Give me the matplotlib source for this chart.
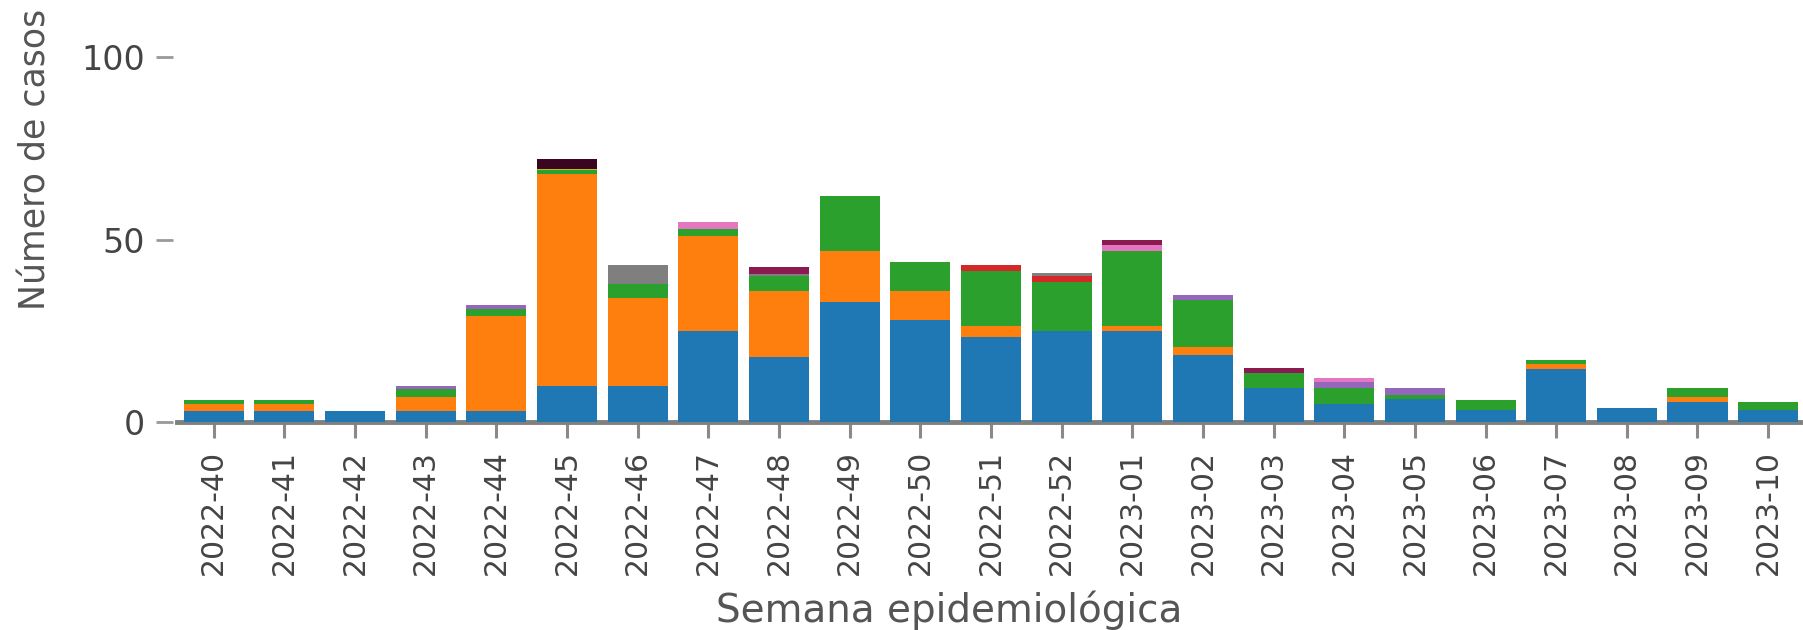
import matplotlib
matplotlib.use("Agg")
import matplotlib.pyplot as plt
import numpy as np

# semanas epidemiológicas
semanas = [
    "2022-40", "2022-41", "2022-42", "2022-43", "2022-44", "2022-45", "2022-46",
    "2022-47", "2022-48", "2022-49", "2022-50", "2022-51", "2022-52",
    "2023-01", "2023-02", "2023-03", "2023-04", "2023-05", "2023-06",
    "2023-07", "2023-08", "2023-09", "2023-10",
]

# casos por serie
serie_azul    = [3, 3, 3, 3, 3, 10, 10, 25, 18, 33, 28, 23.5, 25, 25, 18.5, 9.5, 5, 6.5, 3.5, 14.5, 4, 5.5, 3.5]
serie_laranja = [2, 2, 0, 4, 26, 58, 24, 26, 18, 14, 8, 3, 0, 1.5, 2, 0, 0, 0, 0, 1.5, 0, 1.5, 0]
serie_verde   = [1, 1, 0, 2, 2, 1, 4, 2, 4, 15, 8, 15, 13.5, 20.5, 13, 4, 4.5, 1, 2.5, 1, 0, 2.5, 2]
serie_vermelha = [0, 0, 0, 0, 0, 0, 0, 0, 0, 0, 0, 1.5, 1.5, 0, 0, 0, 0, 0, 0, 0, 0, 0, 0]
serie_cinza   = [0, 0, 0, 0, 0, 0, 5, 0, 0.5, 0, 0, 0, 1, 0, 0, 0, 0, 0, 0, 0, 0, 0, 0]
serie_roxa    = [0, 0, 0, 1, 1, 0, 0, 0, 0, 0, 0, 0, 0, 0, 1.5, 0, 1.5, 2, 0, 0, 0, 0, 0]
serie_rosa    = [0, 0, 0, 0, 0, 0, 0, 2, 0, 0, 0, 0, 0, 1.5, 0, 0, 1, 0, 0, 0, 0, 0, 0]
serie_amarela = [0, 0, 0, 0, 0, 0.5, 0, 0, 0, 0, 0, 0, 0, 0, 0, 0, 0, 0, 0, 0, 0, 0, 0]
serie_vinho   = [0, 0, 0, 0, 0, 0, 0, 0, 2, 0, 0, 0, 0, 1.5, 0, 1.5, 0, 0, 0, 0, 0, 0, 0]
serie_escura  = [0, 0, 0, 0, 0, 2.5, 0, 0, 0, 0, 0, 0, 0, 0, 0, 0, 0, 0, 0, 0, 0, 0, 0]

series = [serie_azul, serie_laranja, serie_verde, serie_vermelha, serie_cinza,
          serie_roxa, serie_rosa, serie_amarela, serie_vinho, serie_escura]
cores = ["#1f77b4", "#ff7f0e", "#2ca02c", "#d62728", "#7f7f7f",
         "#9467bd", "#e377c2", "#bcbd22", "#8b1a50", "#3a0520"]

fig = plt.figure(figsize=(18.03, 6.3), dpi=100)
ax = fig.add_axes([0.0982, 0.3297, 0.9001, 0.6373])

x = np.arange(len(semanas))
base = np.zeros(len(semanas))
for valores, cor in zip(series, cores):
    valores = np.array(valores, dtype=float)
    ax.bar(x, valores, bottom=base, width=0.85, color=cor, linewidth=0, zorder=3)
    base += valores

ax.set_xlim(-0.52, 22.45)
ax.set_ylim(0, 110)
ax.set_xticks(x)
ax.set_xticklabels(semanas, rotation=90)
ax.set_yticks([0, 50, 100])

for lado in ["top", "right"]:
    ax.spines[lado].set_visible(False)
ax.spines["left"].set_position(("outward", 3))
ax.spines["left"].set_color("none")
ax.spines["bottom"].set_color("#808080")
ax.spines["bottom"].set_linewidth(3.5)
ax.spines["bottom"].set_zorder(2)

ax.tick_params(axis="x", labelsize=21.5, labelcolor="#444444", color="#8a8a8a",
               length=11.5, width=2.2, pad=8.5)
ax.tick_params(axis="y", labelsize=24, labelcolor="#444444", color="#999999",
               length=12, width=2, pad=8)

ax.set_xlabel("Semana epidemiológica", fontsize=28, color="#555555", va="baseline")
ax.xaxis.set_label_coords(0.4757, -0.497)
ax.set_ylabel("Número de casos", fontsize=25, color="#555555")
ax.yaxis.set_label_coords(-0.077, 0.656)

fig.savefig("out.png", dpi=100)
